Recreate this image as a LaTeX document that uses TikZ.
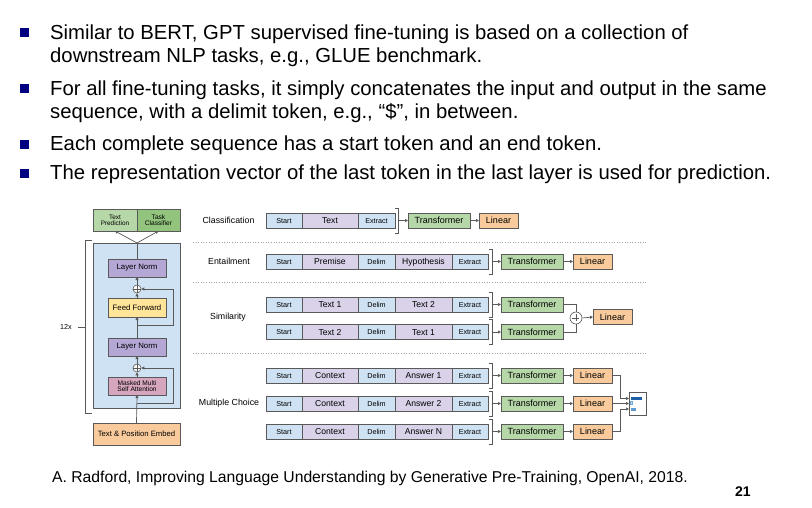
\documentclass[tikz,border=0pt]{standalone}
\usepackage{fontspec}
\setmainfont{Liberation Sans}
\usetikzlibrary{arrows.meta}
\definecolor{tokblue}{HTML}{CFE2F3}
\definecolor{tokpurple}{HTML}{D9D2E9}
\definecolor{trgreen}{HTML}{B6D7A8}
\definecolor{linorange}{HTML}{F9CB9C}
\definecolor{lnpurple}{HTML}{B4A7D6}
\definecolor{ffyellow}{HTML}{FFE599}
\definecolor{msapink}{HTML}{D5A6BD}
\definecolor{tcgreen}{HTML}{93C47D}
\definecolor{tpgreen}{HTML}{B6D7A8}
\definecolor{edge}{HTML}{595959}
\definecolor{navyb}{HTML}{000080}
\definecolor{barblue}{HTML}{1F5FA8}
\definecolor{barlight}{HTML}{6FA8DC}
\newcommand{\fsz}[1]{\fontsize{#1}{#1}\selectfont}
\newcommand{\seqrow}[4]{%
  \node[btok,minimum width=36pt] (#1s) at (284,#2) {Start};
  \node[ptok,minimum width=56pt] (#1a) at (330,#2) {#3};
  \node[btok,minimum width=37pt] (#1d) at (376.5,#2) {Delim};
  \node[ptok,minimum width=57pt] (#1b) at (423.5,#2) {#4};
  \node[btok,minimum width=36pt] (#1e) at (470,#2) {Extract};
  \draw[brk] (489,#2-12.5) -- (492,#2-12.5) -- (492,#2+12.5) -- (489,#2+12.5);
  \coordinate (#1k) at (492,#2);
  \node[trbox] (#1t) at (532,#2) {Transformer};
  \draw[arr] (#1k) -- (#1t.west);
}
\begin{document}
\begin{tikzpicture}[x=1pt,y=-1pt,
  box/.style={draw=edge,line width=0.6pt,rectangle,inner sep=0pt,outer sep=0pt,minimum height=15pt},
  btok/.style={box,fill=tokblue,font=\fsz{7.2},text height=5.2pt,text depth=0pt},
  ptok/.style={box,fill=tokpurple,font=\fsz{8.6},text height=6.2pt,text depth=0pt},
  trbox/.style={box,fill=trgreen,minimum width=62pt,font=\fsz{9},text height=6.5pt,text depth=0pt},
  linbox/.style={box,fill=linorange,minimum width=39pt,font=\fsz{9},text height=6.5pt,text depth=0pt},
  tasklabel/.style={font=\fsz{8.8},inner sep=0pt},
  archbox/.style={box,minimum width=58pt,minimum height=18pt,font=\fsz{7.8}},
  pluscirc/.style={draw=edge,line width=0.6pt,circle,inner sep=0pt,minimum size=8pt,fill=white},
  conn/.style={draw=edge,line width=0.7pt},
  arr/.style={conn,-{Triangle[length=3pt,width=3pt]}},
  brk/.style={draw=edge,line width=0.6pt},
  sep/.style={draw=gray!70,line width=0.6pt,dotted},
  bullet/.style={fill=navyb,minimum size=9pt,inner sep=0pt,outer sep=0pt},
  btext/.style={font=\fsz{20.3},inner sep=0pt,anchor=base west}
]
\useasboundingbox (0,0) rectangle (812,508);

% ---------- bullets ----------
\node[bullet] (b1) at (24.5,33) {};
\node[bullet] (b2) at (24.5,89) {};
\node[bullet] (b3) at (24.5,144.5) {};
\node[bullet] (b4) at (24.5,173.5) {};
\node[btext] (t1a) at (50,39.5) {Similar to BERT, GPT supervised fine-tuning is based on a collection of};
\node[btext] (t1b) at (50,63) {downstream NLP tasks, e.g., GLUE benchmark.};
\node[btext] (t2a) at (50,96) {For all fine-tuning tasks, it simply concatenates the input and output in the same};
\node[btext] (t2b) at (50,118.5) {sequence, with a delimit token, e.g., “\$”, in between.};
\node[btext] (t3) at (50,151) {Each complete sequence has a start token and an end token.};
\node[btext] (t4) at (50,180) {The representation vector of the last token in the last layer is used for prediction.};

% ---------- architecture ----------
\node[box,fill=tokblue,minimum width=87pt,minimum height=165pt] (big) at (136.5,325.5) {};
\node[box,fill=tpgreen,minimum width=44pt,minimum height=22pt,font=\fsz{6.4},align=center] (tp) at (115,220) {Text\\[-0.5pt]Prediction};
\node[box,fill=tcgreen,minimum width=43pt,minimum height=22pt,font=\fsz{6.6},align=center] (tc) at (158.5,220) {Task\\[-0.5pt]Classifier};
\node[archbox,fill=lnpurple] (ln1) at (137,268) {Layer Norm};
\node[pluscirc] (p1) at (137,289) {};
\node[archbox,fill=ffyellow,minimum height=19pt] (ff) at (137,307.5) {Feed Forward};
\node[archbox,fill=lnpurple] (ln2) at (137,347) {Layer Norm};
\node[pluscirc] (p2) at (137,368) {};
\node[archbox,fill=msapink,font=\fsz{6.6},align=center] (msa) at (137,386) {Masked Multi\\[-0.5pt]Self Attention};
\node[box,fill=linorange,minimum width=87pt,minimum height=22pt,font=\fsz{7.7}] (emb) at (136.5,434) {Text \& Position Embed};
\draw[conn] (p1.north) -- (p1.south) (p1.west) -- (p1.east);
\draw[conn] (p2.north) -- (p2.south) (p2.west) -- (p2.east);
\coordinate (top) at (137,243);
\coordinate (r2) at (137,403);
\coordinate (r1) at (137,325);
\draw[arr] (emb.north) -- (msa.south);
\draw[arr] (msa.north) -- (p2.south);
\draw[arr] (p2.north) -- (ln2.south);
\draw[arr] (ln2.north) -- (ff.south);
\draw[arr] (ff.north) -- (p1.south);
\draw[arr] (p1.north) -- (ln1.south);
\draw[conn] (ln1.north) -- (top);
\draw[arr] (top) -- (tp.south);
\draw[arr] (top) -- (tc.south);
\draw[arr] (r2) -- (173,403) |- (p2.east);
\draw[arr] (r1) -- (173,325) |- (p1.east);
\draw[brk] (92,240) -- (85,240) -- (85,413) -- (92,413);
\coordinate (rep) at (85,327);
\draw[brk] (rep) -- ++(-7,0);
\node[font=\fsz{7.2},inner sep=0pt] (rx) at (66,327) {12x};

% ---------- separators ----------
\draw[sep] (193,242) -- (648,242);
\draw[sep] (193,282) -- (648,282);
\draw[sep] (193,353) -- (648,353);

% ---------- classification ----------
\node[tasklabel] (lcls) at (228.5,220) {Classification};
\node[btok,minimum width=36pt] (cs) at (284,220.5) {Start};
\node[ptok,minimum width=56pt] (ct) at (330,220.5) {Text};
\node[btok,minimum width=37pt] (ce) at (376.5,220.5) {Extract};
\draw[brk] (395,208) -- (398,208) -- (398,233) -- (395,233);
\coordinate (cb) at (398,220.5);
\node[trbox] (ctr) at (439,220.5) {Transformer};
\node[linbox] (cl) at (498.5,220.5) {Linear};
\draw[arr] (cb) -- (ctr.west);
\draw[arr] (ctr.east) -- (cl.west);

% ---------- entailment ----------
\node[tasklabel] (lent) at (229,261.5) {Entailment};
\seqrow{en}{261.5}{Premise}{Hypothesis}
\node[linbox] (enl) at (592.5,261.5) {Linear};
\draw[arr] (ent.east) -- (enl.west);

% ---------- similarity ----------
\node[tasklabel] (lsim) at (228,317) {Similarity};
\seqrow{sa}{304.5}{Text 1}{Text 2}
\seqrow{sb}{332}{Text 2}{Text 1}
\node[pluscirc,minimum size=12pt] (sp) at (576,318) {};
\draw[conn] (sp.north) ++(0,2.5) -- ++(0,7) (sp.west) ++(2.5,0) -- ++(7,0);
\node[linbox] (sl) at (612.5,317) {Linear};
\draw[conn] (sat.east) -| (sp.north);
\draw[conn] (sbt.east) -| (sp.south);
\draw[arr] (sp.east) -- (sl.west);

% ---------- multiple choice ----------
\node[tasklabel] (lmc) at (229,403) {Multiple Choice};
\seqrow{ma}{375.5}{Context}{Answer 1}
\seqrow{mb}{403.5}{Context}{Answer 2}
\seqrow{mc}{431.5}{Context}{Answer N}
\node[linbox] (mal) at (592.5,375.5) {Linear};
\node[linbox] (mbl) at (592.5,403.5) {Linear};
\node[linbox] (mcl) at (592.5,431.5) {Linear};
\draw[arr] (mat.east) -- (mal.west);
\draw[arr] (mbt.east) -- (mbl.west);
\draw[arr] (mct.east) -- (mcl.west);
\node[draw=edge,line width=0.6pt,fill=white,minimum width=17pt,minimum height=23pt,inner sep=0pt] (out) at (637.5,403.5) {};
\fill[barblue] (630.5,397) rectangle (642,400);
\draw[barlight,fill=barlight!40,line width=0.5pt] (630,401.5) rectangle (632,404.5);
\fill[barlight!80!barblue] (630.5,408) rectangle (636,411);
\coordinate (in1) at (629,398.5);
\coordinate (in2) at (629,403.5);
\coordinate (in3) at (629,409);
\draw[arr] (mal.east) -- ++(8.5,0) |- (in1);
\draw[arr] (mbl.east) -- (in2);
\draw[arr] (mcl.east) -- ++(8.5,0) |- (in3);

% ---------- footer ----------
\node[font=\fsz{15.7},inner sep=0pt,anchor=base west] (cite) at (52,482) {A. Radford, Improving Language Understanding by Generative Pre-Training, OpenAI, 2018.};
\node[font=\fsz{14}\bfseries,inner sep=0pt,anchor=base west] (pg) at (735,496) {21};
\end{tikzpicture}
\end{document}
